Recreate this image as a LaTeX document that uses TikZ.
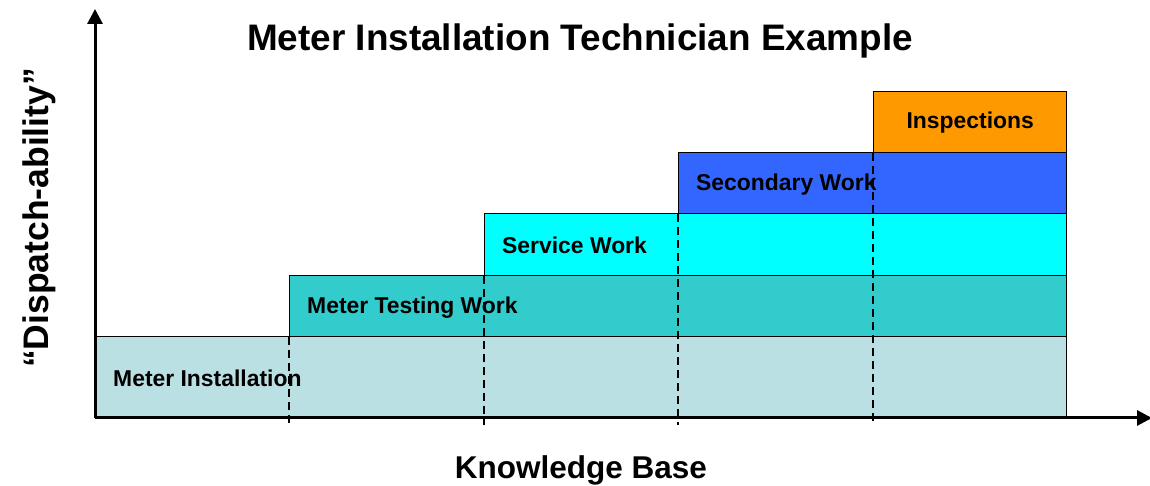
\documentclass[tikz,border=0pt]{standalone}
\usepackage{fontspec}
\setmainfont{Liberation Sans}
\usetikzlibrary{arrows.meta}

\definecolor{instfill}{RGB}{187,224,227}
\definecolor{testfill}{RGB}{51,204,204}
\definecolor{servfill}{RGB}{0,255,255}
\definecolor{secfill}{RGB}{51,102,255}
\definecolor{inspfill}{RGB}{255,153,0}

\begin{document}
\begin{tikzpicture}[x=1pt,y=1pt,
  bar/.style={draw=black, line width=1.4pt, inner sep=0pt, anchor=south west},
  barlabel/.style={font=\fontsize{22.9}{27}\selectfont\bfseries, inner sep=0pt},
  axis/.style={line width=3pt, -{Triangle[length=15pt,width=15pt]}},
  guide/.style={line width=2.6pt, dash pattern=on 8pt off 5pt}]
\useasboundingbox (0,0) rectangle (1150,486);
\coordinate (origin) at (95,68);
\coordinate (dashend) at (95,61);

%meter installation%
\node[bar, fill=instfill, minimum width=971pt, minimum height=81pt] (inst) at (origin) {};
\node[barlabel, anchor=west] (instlabel) at ([xshift=18pt,yshift=-2pt]inst.west) {Meter Installation};

%meter testing%
\node[bar, fill=testfill, minimum width=777pt, minimum height=61pt] (test) at (289,149) {};
\node[barlabel, anchor=west] (testlabel) at ([xshift=18pt,yshift=-2pt]test.west) {Meter Testing Work};

%service%
\node[bar, fill=servfill, minimum width=582pt, minimum height=62pt] (serv) at (484,210) {};
\node[barlabel, anchor=west] (servlabel) at ([xshift=18pt,yshift=-1pt]serv.west) {Service Work};

%secondary%
\node[bar, fill=secfill, minimum width=388pt, minimum height=61pt] (sec) at (678,272) {};
\node[barlabel, anchor=west] (seclabel) at ([xshift=18pt,yshift=-2pt]sec.west) {Secondary Work};

%inspections%
\node[bar, fill=inspfill, minimum width=193pt, minimum height=61pt] (insp) at (873,333) {};
\node[barlabel] (insplabel) at ([yshift=-1pt]insp.center) {Inspections};

%step lines%
\foreach \b in {test,serv,sec,insp}
  \draw[guide] (\b.south west) -- (\b.south west |- dashend);

%axes%
\coordinate (yend) at (95,477);
\coordinate (xend) at (1152,68);
\draw[axis] (origin) -- (yend);
\draw[axis] (origin) -- (xend);

%titles%
\node[font=\fontsize{36.9}{44}\selectfont\bfseries, anchor=base] (title) at (580,435) {Meter Installation Technician Example};
\node[font=\fontsize{31.5}{38}\selectfont\bfseries, anchor=base] (xlabel) at (581,7) {Knowledge Base};
\node[font=\fontsize{35.5}{42}\selectfont\bfseries, anchor=base, rotate=90] (ylabel) at (48,268) {“Dispatch-ability”};
\end{tikzpicture}
\end{document}
